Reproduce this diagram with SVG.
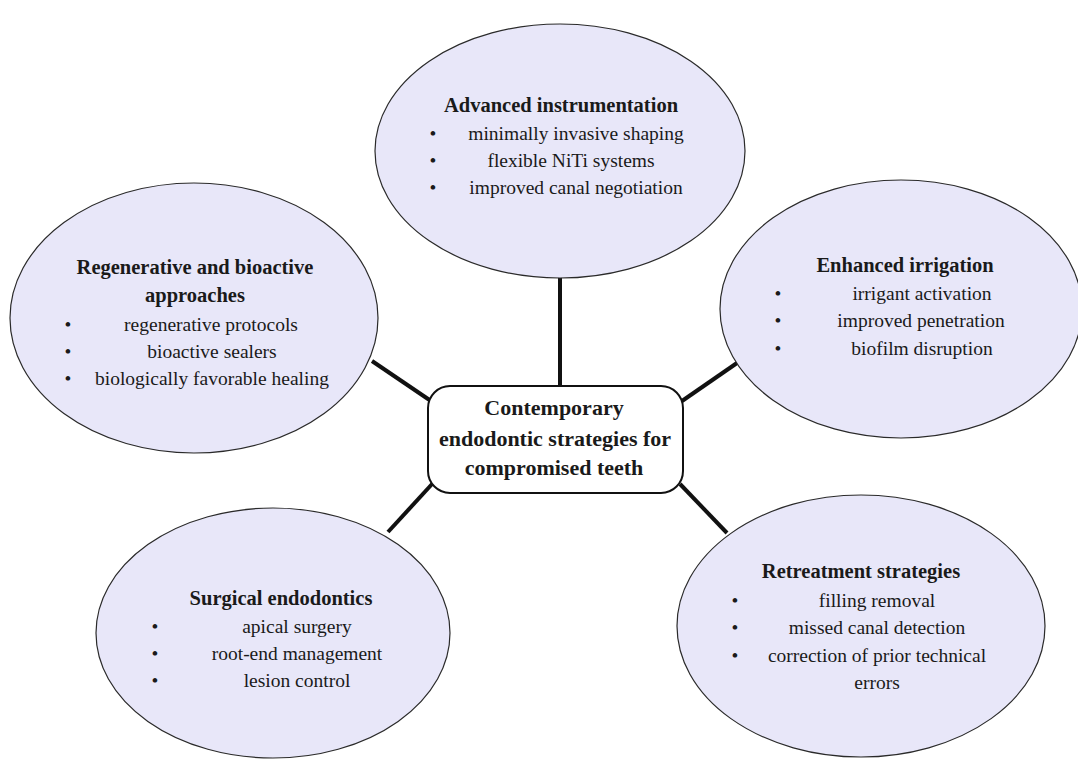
<svg xmlns="http://www.w3.org/2000/svg" width="1078" height="763" viewBox="0 0 1078 763">
<style>
.ell{fill:#e8e7f9;stroke:#2a2a2a;stroke-width:1.2}
text{font-family:'Liberation Serif',serif;fill:#1a1a1a;text-anchor:middle}
.h{font-size:20.5px;font-weight:bold}
.b{font-size:19.5px;font-weight:normal}
.c{font-size:22px;font-weight:bold}
.con line{stroke:#111;stroke-width:4;stroke-linecap:butt}
</style>
<rect width="1078" height="763" fill="#ffffff"/>
<g id="connectors" class="con">
<line x1="560" y1="277" x2="560" y2="387"/>
<line x1="372" y1="361" x2="431" y2="401"/>
<line x1="737" y1="363" x2="682" y2="401"/>
<line x1="388" y1="532" x2="433" y2="483"/>
<line x1="727" y1="533" x2="680" y2="484"/>
</g>
<g id="node-top" font-family="Liberation Serif">
<ellipse class="ell" cx="560" cy="151" rx="185" ry="127"/>
<text class="h" x="561" y="112">Advanced instrumentation</text>
<text class="b" x="433" y="140">•</text><text class="b" x="576" y="140">minimally invasive shaping</text>
<text class="b" x="433" y="167">•</text><text class="b" x="571" y="167">flexible NiTi systems</text>
<text class="b" x="433" y="194">•</text><text class="b" x="576" y="194">improved canal negotiation</text>
</g>
<g id="node-left" font-family="Liberation Serif">
<ellipse class="ell" cx="194" cy="318" rx="184" ry="135"/>
<text class="h" x="195" y="274">Regenerative and bioactive</text>
<text class="h" x="195" y="302">approaches</text>
<text class="b" x="68" y="331">•</text><text class="b" x="211" y="331">regenerative protocols</text>
<text class="b" x="68" y="358">•</text><text class="b" x="212" y="358">bioactive sealers</text>
<text class="b" x="68" y="385">•</text><text class="b" x="212" y="385">biologically favorable healing</text>
</g>
<g id="node-right" font-family="Liberation Serif">
<ellipse class="ell" cx="901" cy="309" rx="181" ry="129"/>
<text class="h" x="905" y="272">Enhanced irrigation</text>
<text class="b" x="778" y="300">•</text><text class="b" x="922" y="300">irrigant activation</text>
<text class="b" x="778" y="327">•</text><text class="b" x="921" y="327">improved penetration</text>
<text class="b" x="778" y="355">•</text><text class="b" x="922" y="355">biofilm disruption</text>
</g>
<g id="node-bottom-left" font-family="Liberation Serif">
<ellipse class="ell" cx="273" cy="633" rx="177" ry="125"/>
<text class="h" x="281" y="605">Surgical endodontics</text>
<text class="b" x="155" y="633">•</text><text class="b" x="297" y="633">apical surgery</text>
<text class="b" x="155" y="660">•</text><text class="b" x="297" y="660">root-end management</text>
<text class="b" x="155" y="687">•</text><text class="b" x="297" y="687">lesion control</text>
</g>
<g id="node-bottom-right" font-family="Liberation Serif">
<ellipse class="ell" cx="861" cy="626" rx="184" ry="131"/>
<text class="h" x="861" y="578">Retreatment strategies</text>
<text class="b" x="735" y="607">•</text><text class="b" x="877" y="607">filling removal</text>
<text class="b" x="735" y="634">•</text><text class="b" x="877" y="634">missed canal detection</text>
<text class="b" x="735" y="662">•</text><text class="b" x="877" y="662">correction of prior technical</text>
<text class="b" x="877" y="689">errors</text>
</g>
<g id="node-center" font-family="Liberation Serif">
<rect x="428" y="386" width="255" height="107" rx="22" ry="22" fill="#ffffff" stroke="#111" stroke-width="2"/>
<text class="c" x="554" y="415">Contemporary</text>
<text class="c" x="555" y="446">endodontic strategies for</text>
<text class="c" x="554" y="475">compromised teeth</text>
</g>
</svg>
